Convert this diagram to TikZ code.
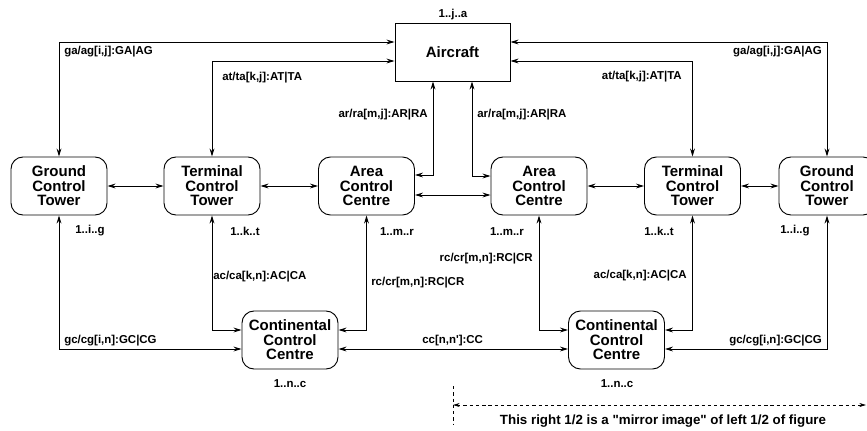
\documentclass[tikz,border=0pt]{standalone}
\usepackage{fontspec}
\setmainfont{Liberation Sans}[Ligatures=TeXOff]
\usetikzlibrary{arrows.meta}
\tikzset{
  box/.style={draw, line width=0.7pt, rounded corners=9pt, minimum width=72pt, minimum height=43.5pt,
    align=center, inner sep=0pt, font=\fontsize{11.25}{10.9}\selectfont\bfseries},
  acbox/.style={draw, line width=0.7pt, minimum width=86.25pt, minimum height=43.5pt,
    inner sep=0pt, font=\fontsize{11.25}{10.9}\selectfont\bfseries},
  lab/.style={inner sep=0pt, font=\fontsize{8.6}{10}\selectfont\bfseries},
  link/.style={line width=0.7pt, {Stealth[length=6pt,width=3.6pt]}-{Stealth[length=6pt,width=3.6pt]}},
  dashy/.style={line width=0.6pt, dash pattern=on 2.5pt off 2.2pt},
}
\begin{document}
\begin{tikzpicture}[x=0.75pt,y=-0.75pt]
\clip (0,0) rectangle (867,430);
\fill[white] (0,0) rectangle (867,430);
% nodes
\node[acbox] (air) at (452.5,52) {Aircraft};
\node[box] (gL) at (59,186) {Ground\\Control\\Tower};
\node[box] (tL) at (212,186) {Terminal\\Control\\Tower};
\node[box] (aL) at (366.5,186) {Area\\Control\\Centre};
\node[box] (aR) at (539,186) {Area\\Control\\Centre};
\node[box] (tR) at (692.5,186) {Terminal\\Control\\Tower};
\node[box] (gR) at (827,186) {Ground\\Control\\Tower};
\node[box] (cL) at (290,340) {Continental\\Control\\Centre};
\node[box] (cR) at (616.5,340) {Continental\\Control\\Centre};
% levels
\coordinate (yGA) at (0,42);
\coordinate (yAT) at (0,61);
\coordinate (arL) at (433,175);
\coordinate (arR) at (472,176);
\coordinate (yM) at (0,195);
\coordinate (yU) at (0,330);
\coordinate (yB) at (0,349);
% top connectors
\draw[link] (air.west |- yGA) -- (gL.north |- yGA) -- (gL.north);
\draw[link] (air.west |- yAT) -- (tL.north |- yAT) -- (tL.north);
\draw[link] (air.east |- yGA) -- (gR.north |- yGA) -- (gR.north);
\draw[link] (air.east |- yAT) -- (tR.north |- yAT) -- (tR.north);
\draw[link] (air.south -| arL) -- (arL) -- (aL.east |- arL);
\draw[link] (air.south -| arR) -- (arR) -- (aR.west |- arR);
% middle row
\draw[link] (gL.east) -- (tL.west);
\draw[link] (tL.east) -- (aL.west);
\draw[link] (aR.east) -- (tR.west);
\draw[link] (tR.east) -- (gR.west);
\draw[link] (aL.east |- yM) -- (aR.west |- yM);
% bottom connectors
\draw[link] (gL.south) -- (gL.south |- yB) -- (cL.west |- yB);
\draw[link] (tL.south) -- (tL.south |- yU) -- (cL.west |- yU);
\draw[link] (aL.south) -- (aL.south |- yU) -- (cL.east |- yU);
\draw[link] (gR.south) -- (gR.south |- yB) -- (cR.east |- yB);
\draw[link] (tR.south) -- (tR.south |- yU) -- (cR.east |- yU);
\draw[link] (aR.south) -- (aR.south |- yU) -- (cR.west |- yU);
\draw[link] (cL.east |- yB) -- (cR.west |- yB);
% labels
\node[lab] (lj) at (453,15) {1..j..a};
\node[lab, anchor=west] (l1) at (64,52) {ga/ag[i,j]:GA|AG};
\node[lab, anchor=east] (l2) at (822,52) {ga/ag[i,j]:GA|AG};
\node[lab, anchor=west] (l3) at (222,78) {at/ta[k,j]:AT|TA};
\node[lab, anchor=east] (l4) at (682,77) {at/ta[k,j]:AT|TA};
\node[lab, anchor=east] (l5) at (428,115) {ar/ra[m,j]:AR|RA};
\node[lab, anchor=west] (l6) at (477,115) {ar/ra[m,j]:AR|RA};
\node[lab] (n1) at (90,231) {1..i..g};
\node[lab] (n2) at (245,231) {1..k..t};
\node[lab] (n3) at (397,232) {1..m..r};
\node[lab] (n4) at (507,232) {1..m..r};
\node[lab] (n5) at (659,231) {1..k..t};
\node[lab] (n6) at (795,231) {1..i..g};
\node[lab, anchor=west] (l7) at (213,277) {ac/ca[k,n]:AC|CA};
\node[lab, anchor=east] (l8) at (687,276) {ac/ca[k,n]:AC|CA};
\node[lab, anchor=west] (l9) at (371,283) {rc/cr[m,n]:RC|CR};
\node[lab, anchor=east] (l10) at (533,259) {rc/cr[m,n]:RC|CR};
\node[lab, anchor=west] (l11) at (64,341) {gc/cg[i,n]:GC|CG};
\node[lab, anchor=east] (l12) at (822,341) {gc/cg[i,n]:GC|CG};
\node[lab, anchor=west] (l13) at (422,341) {cc[n,n']:CC};
\node[lab] (n7) at (290,384) {1..n..c};
\node[lab] (n8) at (617,384) {1..n..c};
% mirror note
\coordinate (dT) at (453,386);
\coordinate (dB) at (453,424);
\coordinate (dE) at (866,405);
\draw[dashy] (dT) -- (dB);
\draw[dashy, {Stealth[length=5pt,width=3pt]}-{Stealth[length=5pt,width=3pt]}] (dT |- dE) -- (dE);
\node[inner sep=0pt, font=\fontsize{10}{12}\selectfont\bfseries] (note) at (663,421) {This right 1/2 is a "mirror image" of left 1/2 of figure};
\end{tikzpicture}
\end{document}
